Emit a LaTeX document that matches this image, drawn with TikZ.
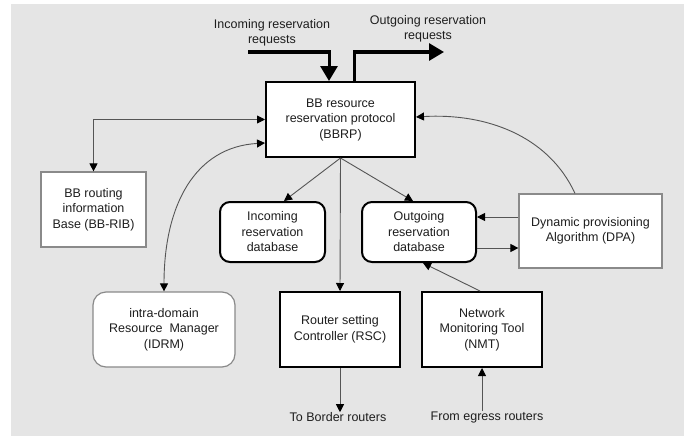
\documentclass[tikz,border=0pt]{standalone}
\usepackage{fontspec}
\setmainfont{Liberation Sans}
\usetikzlibrary{arrows.meta,calc}

\definecolor{panel}{HTML}{E5E5E5}
\definecolor{wire}{HTML}{555555}
\definecolor{softedge}{HTML}{8A8A8A}
\definecolor{ink}{HTML}{1E1E1E}

\tikzset{
  txt/.style={font=\fontsize{12.5}{15.5}\selectfont, text=ink, align=center},
  boldbox/.style={txt, draw=black, line width=2pt, fill=white, inner sep=0pt},
  softbox/.style={txt, draw=softedge, line width=1.2pt, fill=white, inner sep=0pt},
  roundish/.style={rounded corners=10pt},
  wirearrow/.style={draw=wire, line width=0.9pt, -{Triangle[length=8pt,width=8pt,color=black]}},
  wirebiarrow/.style={draw=wire, line width=0.9pt, {Triangle[length=8pt,width=8pt,color=black]}-{Triangle[length=8pt,width=8pt,color=black]}},
  bigarrow/.style={draw=black, line width=3pt, -{Triangle[length=15pt,width=17pt]}},
  label/.style={txt, inner sep=0pt}
}

\begin{document}
\begin{tikzpicture}[x=1pt,y=-1pt]
  \useasboundingbox (0,0) rectangle (684,436);
  \fill[white] (0,0) rectangle (684,436);
  \fill[panel] (11,4) rectangle (684,436);

  % main blocks
  \node[boldbox, minimum width=149pt, minimum height=75pt] (bbrp) at (340.5,119.5)
    {BB resource\\reservation protocol\\(BBRP)};
  \node[softbox, minimum width=105pt, minimum height=75pt] (bbrib) at (93.5,209.5)
    {BB routing\\information\\Base (BB-RIB)};
  \node[boldbox, roundish, minimum width=105pt, minimum height=60pt] (indb) at (272.5,232)
    {Incoming\\reservation\\database};
  \node[boldbox, roundish, minimum width=114pt, minimum height=60pt] (outdb) at (419,232)
    {Outgoing\\reservation\\database};
  \node[softbox, minimum width=143pt, minimum height=74pt] (dpa) at (590.5,231)
    {Dynamic provisioning\\Algorithm (DPA)};
  \node[softbox, rounded corners=13pt, minimum width=142pt, minimum height=75pt] (idrm) at (164,329.5)
    {intra-domain\\Resource~~Manager\\(IDRM)};
  \node[boldbox, minimum width=120pt, minimum height=75pt] (rsc) at (340,329.5)
    {Router setting\\Controller (RSC)};
  \node[boldbox, minimum width=120pt, minimum height=75pt] (nmt) at (482,329.5)
    {Network\\Monitoring Tool\\(NMT)};

  % external labels
  \node[label] (inreq) at (272,33) {Incoming reservation\\requests};
  \node[label] (outreq) at (428,29) {Outgoing reservation\\requests};
  \node[label] (toborder) at (338,417) {To Border routers};
  \node[label] (fromegress) at (487,417) {From egress routers};

  % request flows
  \coordinate (inStart) at (248,52);
  \coordinate (outEnd) at (444,52);
  \draw[bigarrow] (inStart) -| ([xshift=-11.5pt]bbrp.north);
  \draw[bigarrow] ([xshift=13.5pt]bbrp.north) |- (outEnd);

  % BBRP links
  \draw[wirebiarrow] (bbrp.west) -| (bbrib.north);
  \draw[wirearrow] (bbrp.south) -- ([xshift=11.5pt]indb.north);
  \draw[wirearrow] (bbrp.south) -- ([xshift=-6pt]outdb.north);
  \draw[wirearrow] (bbrp.south) -- (rsc.north);
  \draw[wirebiarrow] (idrm.north) .. controls (164,205) and (195,147) .. ($(bbrp.west)+(0,23.5)$);
  \draw[wirearrow] ([xshift=-15.5pt]dpa.north) .. controls (548,135) and (485,113) .. ($(bbrp.east)+(0,-2.5)$);

  % DPA and database exchange
  \draw[wirearrow] ([yshift=14pt]dpa.west) -- ([yshift=14pt]dpa.west -| outdb.east);
  \draw[wirearrow] ([yshift=-16pt]outdb.east) -- ([yshift=-16pt]outdb.east -| dpa.west);
  \draw[wirearrow] ([xshift=-2pt]nmt.north) -- ([xshift=4pt]outdb.south);

  % router interfaces
  \draw[wirearrow] (rsc.south) -- (toborder.north -| rsc.south);
  \draw[wirearrow] (fromegress.north -| nmt.south) -- (nmt.south);
\end{tikzpicture}
\end{document}
